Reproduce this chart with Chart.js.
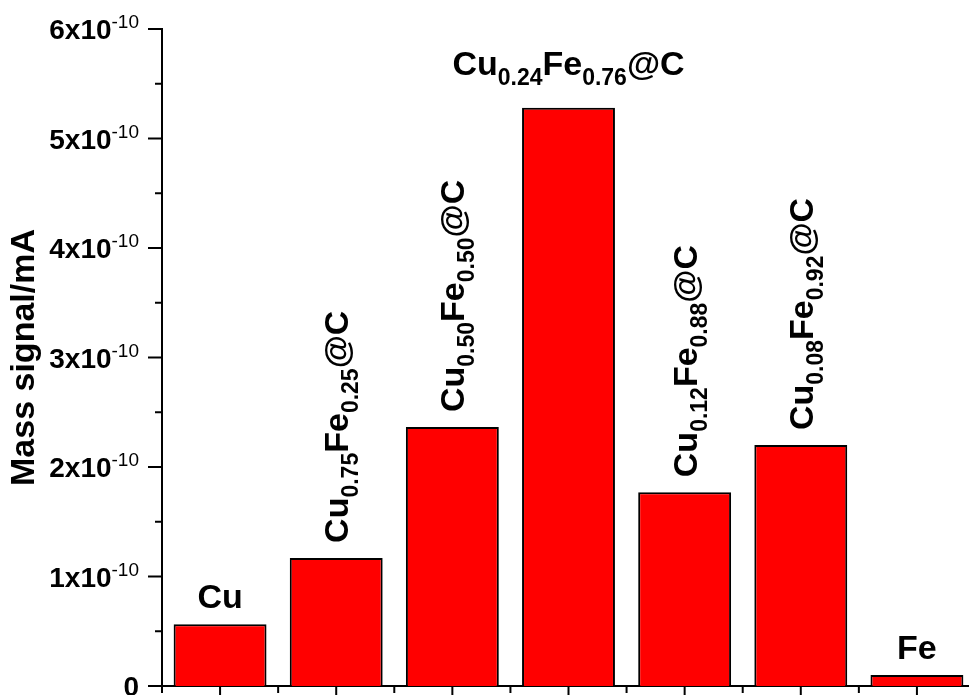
<!DOCTYPE html>
<html>
<head>
<meta charset="utf-8">
<script src="https://cdn.jsdelivr.net/npm/chart.js@4.4.0/dist/chart.umd.min.js"></script>
<style>
    html, body { margin: 0; padding: 0; background: #fff; overflow: hidden; }
    canvas { display: block; }
</style>
</head>
<body>
<canvas id="massChart" width="980" height="695"></canvas>
<script>
const categories = ['Cu', 'Cu0.75Fe0.25@C', 'Cu0.50Fe0.50@C', 'Cu0.24Fe0.76@C', 'Cu0.12Fe0.88@C', 'Cu0.08Fe0.92@C', 'Fe'];
const massSignal = [0.565e-10, 1.17e-10, 2.365e-10, 5.28e-10, 1.77e-10, 2.2e-10, 0.10e-10];

// label pieces: [text, isSubscript]
const barLabelParts = [
    [['Cu', false]],
    [['Cu', false], ['0.75', true], ['Fe', false], ['0.25', true], ['@C', false]],
    [['Cu', false], ['0.50', true], ['Fe', false], ['0.50', true], ['@C', false]],
    [['Cu', false], ['0.24', true], ['Fe', false], ['0.76', true], ['@C', false]],
    [['Cu', false], ['0.12', true], ['Fe', false], ['0.88', true], ['@C', false]],
    [['Cu', false], ['0.08', true], ['Fe', false], ['0.92', true], ['@C', false]],
    [['Fe', false]]
];
const barLabelRotated = [false, true, true, false, true, true, false];

const yTickValues = [0, 1e-10, 2e-10, 3e-10, 4e-10, 5e-10, 6e-10];
const yTickMain = ['0', '1x10', '2x10', '3x10', '4x10', '5x10', '6x10'];
const yTickExp = ['', '-10', '-10', '-10', '-10', '-10', '-10'];

const FONT = '"Liberation Sans", Arial, sans-serif';

function drawParts(ctx, parts, x, y, align) {
    const widths = parts.map(([t, sub]) => {
        ctx.font = sub ? `bold 23px ${FONT}` : `bold 34px ${FONT}`;
        return ctx.measureText(t).width;
    });
    const total = widths.reduce((a, b) => a + b, 0);
    let cx = align === 'center' ? x - total / 2 : x;
    ctx.textAlign = 'left';
    ctx.textBaseline = 'alphabetic';
    parts.forEach(([t, sub], i) => {
        ctx.font = sub ? `bold 23px ${FONT}` : `bold 34px ${FONT}`;
        ctx.fillText(t, cx, sub ? y + 10 : y);
        cx += widths[i];
    });
}

function line(ctx, x1, y1, x2, y2) {
    ctx.beginPath();
    ctx.moveTo(x1, y1);
    ctx.lineTo(x2, y2);
    ctx.stroke();
}

// Labels above the bars
const barLabels = {
    id: 'barLabels',
    afterDatasetsDraw(chart) {
        const ctx = chart.ctx;
        const meta = chart.getDatasetMeta(0);
        meta.data.forEach((bar, i) => {
            const parts = barLabelParts[i];
            const hasSub = parts.some(p => p[1]);
            ctx.save();
            ctx.fillStyle = '#000';
            if (barLabelRotated[i]) {
                ctx.translate(bar.x + 12, bar.y - 15);
                ctx.rotate(-Math.PI / 2);
                drawParts(ctx, parts, 0, 0, 'left');
            } else {
                drawParts(ctx, parts, bar.x, bar.y - (hasSub ? 33 : 16), 'center');
            }
            ctx.restore();
        });
    }
};

// Tick marks and tick labels with superscripts
const axisDecor = {
    id: 'axisDecor',
    afterDraw(chart) {
        const ctx = chart.ctx;
        const y = chart.scales.y;
        const x = chart.scales.x;
        ctx.save();
        ctx.strokeStyle = '#000';
        ctx.lineWidth = 2;

        y.ticks.forEach(t => {
            const py = y.getPixelForValue(t.value);
            const major = Math.round(t.value / 5e-11) % 2 === 0;
            line(ctx, y.right - (major ? 14 : 7), py, y.right, py);
        });

        const n = categories.length;
        for (let i = 0; i < n; i++) {
            const px = x.getPixelForValue(i);
            line(ctx, px, x.top, px, x.top + 12);
        }
        for (let i = 0; i <= n; i++) {
            const px = x.getPixelForValue(i - 0.5);
            line(ctx, px, x.top, px, x.top + 7);
        }

        ctx.fillStyle = '#000';
        ctx.textAlign = 'right';
        ctx.textBaseline = 'alphabetic';
        yTickValues.forEach((v, i) => {
            const py = y.getPixelForValue(v);
            ctx.font = `19px ${FONT}`;
            const ew = yTickExp[i] ? ctx.measureText(yTickExp[i]).width : 0;
            if (yTickExp[i]) ctx.fillText(yTickExp[i], 139, py - 1);
            ctx.font = `bold 28px ${FONT}`;
            ctx.fillText(yTickMain[i], 139 - ew, py + 10);
        });
        ctx.restore();
    }
};

const ctxMass = document.getElementById('massChart').getContext('2d');
new Chart(ctxMass, {
    type: 'bar',
    data: {
        labels: categories,
        datasets: [{
            label: 'Mass signal',
            data: massSignal,
            backgroundColor: '#ff0000',
            borderColor: '#000000',
            borderWidth: 2,
            barPercentage: 0.8,
            categoryPercentage: 1.0
        }]
    },
    options: {
        responsive: false,
        animation: false,
        devicePixelRatio: 1,
        layout: { padding: { top: 29, right: 5, left: 0, bottom: 0 } },
        plugins: {
            legend: { display: false },
            tooltip: { enabled: false }
        },
        scales: {
            x: {
                offset: true,
                grid: { display: false },
                ticks: { display: false },
                border: { display: true, color: '#000', width: 2 },
                afterFit(scale) { scale.height = 9; }
            },
            y: {
                min: 0,
                max: 6e-10,
                grid: { display: false },
                ticks: { display: false, stepSize: 5e-11 },
                border: { display: true, color: '#000', width: 2 },
                title: {
                    display: true,
                    text: 'Mass signal/mA',
                    color: '#000',
                    font: { family: FONT, size: 34, weight: 'bold' },
                    padding: { top: 4, bottom: 0 }
                },
                afterFit(scale) { scale.width = 162; }
            }
        }
    },
    plugins: [barLabels, axisDecor]
});
</script>
</body>
</html>
